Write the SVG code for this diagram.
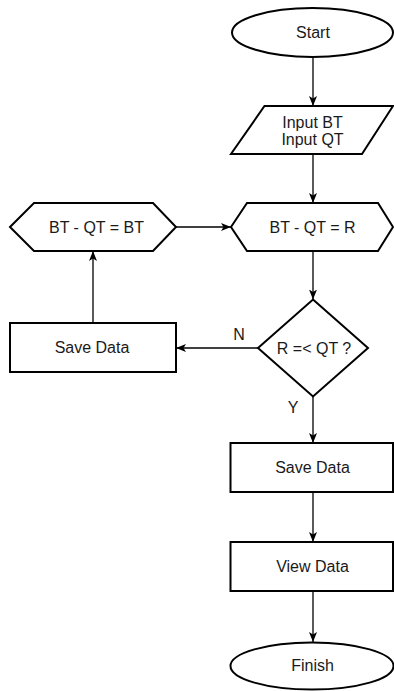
<svg xmlns="http://www.w3.org/2000/svg" width="394" height="691" viewBox="0 0 394 691">
<style>
.s{fill:#fff;stroke:#000;stroke-width:2}
.t{font-family:"Liberation Sans",Arial,sans-serif;font-size:16px;fill:#1a1a1a;text-anchor:middle}
.c{fill:none;stroke:#000;stroke-width:1.3}
</style>
<defs>
<marker id="ah" markerUnits="userSpaceOnUse" markerWidth="10" markerHeight="9" refX="10" refY="4.5" orient="auto">
<path d="M0,0.5 L10,4.5 L0,8.5 L2.5,4.5 Z" fill="#000"/>
</marker>
</defs>
<rect width="394" height="691" fill="#fff"/>
<g id="connectors">
<path class="c" d="M313,57.5 V106" marker-end="url(#ah)"/>
<path class="c" d="M313,154 V203" marker-end="url(#ah)"/>
<path class="c" d="M176,227 H231" marker-end="url(#ah)"/>
<path class="c" d="M313,251 V299.5" marker-end="url(#ah)"/>
<path class="c" d="M258,348 H176" marker-end="url(#ah)"/>
<path class="c" d="M93,323 V251" marker-end="url(#ah)"/>
<path class="c" d="M313,397 V443" marker-end="url(#ah)"/>
<path class="c" d="M313,492 V542" marker-end="url(#ah)"/>
<path class="c" d="M313,591 V642" marker-end="url(#ah)"/>
<text class="t" x="239" y="340">N</text>
<text class="t" x="293" y="413">Y</text>
</g>
<g id="start">
<ellipse class="s" cx="312.5" cy="32.5" rx="80.5" ry="24.5"/>
<text class="t" x="313" y="38">Start</text>
</g>
<g id="input">
<polygon class="s" points="264.5,106 393,106 362,154 231,154"/>
<text class="t" x="312.5" y="128">Input BT</text>
<text class="t" x="312.5" y="145">Input QT</text>
</g>
<g id="calcR">
<polygon class="s" points="231,227 247,203 378,203 393,227 378,251 247,251"/>
<text class="t" x="312.5" y="233">BT - QT = R</text>
</g>
<g id="calcBT">
<polygon class="s" points="10,227 34,203 153,203 176,227 153,251 34,251"/>
<text class="t" x="96.5" y="233">BT - QT = BT</text>
</g>
<g id="decision">
<polygon class="s" points="313,299.5 368,348 313,396.5 258,348"/>
<text class="t" x="314" y="354">R =&lt; QT ?</text>
</g>
<g id="saveLeft">
<rect class="s" x="10" y="323" width="166" height="49"/>
<text class="t" x="92" y="353">Save Data</text>
</g>
<g id="saveRight">
<rect class="s" x="230.5" y="443" width="162.5" height="49"/>
<text class="t" x="312.5" y="473">Save Data</text>
</g>
<g id="viewData">
<rect class="s" x="230.5" y="542" width="162.5" height="49"/>
<text class="t" x="312.5" y="572">View Data</text>
</g>
<g id="finish">
<ellipse class="s" cx="312" cy="666" rx="81.5" ry="23.5"/>
<text class="t" x="312.5" y="671">Finish</text>
</g>
</svg>
